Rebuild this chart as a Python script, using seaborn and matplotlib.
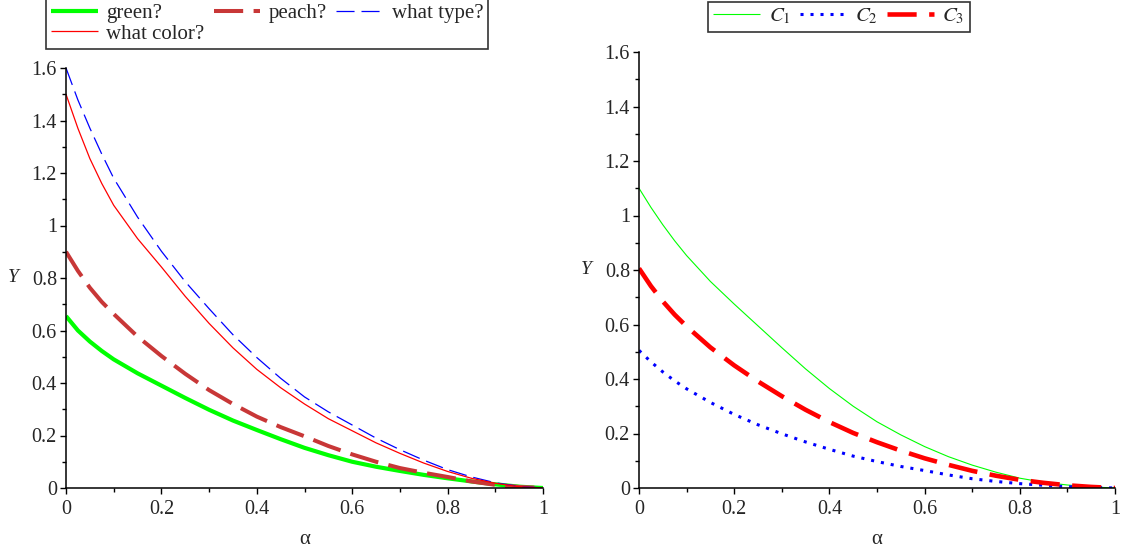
"""
Two-panel decay curves of Y against alpha, in the style of a Maple plot.
"""

import matplotlib

matplotlib.use("Agg")
import matplotlib.pyplot as plt
import matplotlib.ticker as mticker
import seaborn as sns

# alpha grid shared by every curve (finer near 0 where the curves bend most)
alpha = [0.000, 0.025, 0.050, 0.075, 0.10, 0.15, 0.20, 0.25, 0.30, 0.35, 0.40,
         0.45, 0.50, 0.55, 0.60, 0.65, 0.70, 0.75, 0.80, 0.85, 0.90, 0.95, 1.00]

# left panel, values
green = [0.655, 0.600, 0.558, 0.522, 0.490, 0.437, 0.390, 0.343, 0.298, 0.257, 0.221,
         0.186, 0.153, 0.125, 0.100, 0.081, 0.065, 0.050, 0.037, 0.025, 0.014, 0.005, 0.0]
peach = [0.900, 0.827, 0.763, 0.709, 0.663, 0.577, 0.503, 0.435, 0.373, 0.320, 0.272,
         0.232, 0.197, 0.160, 0.128, 0.100, 0.076, 0.058, 0.042, 0.025, 0.012, 0.004, 0.0]
what_type = [1.600, 1.478, 1.371, 1.272, 1.180, 1.032, 0.902, 0.786, 0.683, 0.584, 0.497,
             0.418, 0.347, 0.290, 0.240, 0.190, 0.146, 0.106, 0.070, 0.042, 0.020, 0.006, 0.0]
what_color = [1.500, 1.370, 1.255, 1.160, 1.077, 0.950, 0.842, 0.730, 0.627, 0.534, 0.452,
              0.382, 0.320, 0.264, 0.218, 0.172, 0.132, 0.095, 0.063, 0.037, 0.018, 0.005, 0.0]

# right panel
c1 = [1.100, 1.030, 0.966, 0.907, 0.853, 0.758, 0.675, 0.595, 0.515, 0.437, 0.365,
      0.300, 0.243, 0.195, 0.152, 0.115, 0.084, 0.058, 0.036, 0.021, 0.011, 0.004, 0.0]
c2 = [0.505, 0.463, 0.426, 0.393, 0.364, 0.314, 0.270, 0.232, 0.199, 0.169, 0.142,
      0.117, 0.097, 0.079, 0.064, 0.048, 0.034, 0.024, 0.016, 0.010, 0.005, 0.002, 0.0]
c3 = [0.806, 0.741, 0.685, 0.636, 0.593, 0.516, 0.450, 0.391, 0.337, 0.287, 0.242,
      0.202, 0.168, 0.137, 0.109, 0.085, 0.063, 0.045, 0.030, 0.019, 0.010, 0.004, 0.0]

left_labels = ["green?", "peach?", "what type?", "what color?"]
right_labels = ["$C_1$", "$C_2$", "$C_3$"]
x_ticks = [0, 0.2, 0.4, 0.6, 0.8, 1]
y_ticks = [0, 0.2, 0.4, 0.6, 0.8, 1, 1.2, 1.4, 1.6]

sns.set_style("white")
plt.rcParams["font.family"] = ["Liberation Serif", "DejaVu Serif"]
plt.rcParams["mathtext.fontset"] = "stix"
plt.rcParams["lines.scale_dashes"] = False


def draw(ax, y, color, lw, dashes=None):
    sns.lineplot(x=alpha, y=y, color=color, linewidth=lw, ax=ax)
    line = ax.lines[-1]
    if dashes:
        line.set_dashes(dashes)
    line.set_dash_capstyle("butt")
    line.set_solid_capstyle("butt")
    return line


def style_axes(ax):
    ax.set_xlim(0, 1)
    ax.set_ylim(0, 1.6)
    ax.set_xticks(x_ticks)
    ax.set_yticks(y_ticks)
    ax.xaxis.set_minor_locator(mticker.MultipleLocator(0.1))
    ax.yaxis.set_minor_locator(mticker.MultipleLocator(0.1))
    fmt = mticker.FuncFormatter(lambda v, _: f"{v:g}")
    ax.xaxis.set_major_formatter(fmt)
    ax.yaxis.set_major_formatter(fmt)
    ax.tick_params(which="major", direction="out", length=4.5, width=1.0,
                   labelsize=14.5, pad=2, color="black", left=True, bottom=True)
    ax.tick_params(axis="x", which="major", pad=4)
    ax.tick_params(which="minor", direction="out", length=2.8, width=1.0,
                   color="black", left=True, bottom=True)
    for side in ("top", "right"):
        ax.spines[side].set_visible(False)
    for side in ("left", "bottom"):
        ax.spines[side].set_color("black")
        ax.spines[side].set_linewidth(1.1)
        ax.spines[side].set_zorder(5)
    ax.set_xlabel("α", fontsize=15, labelpad=8)
    ax.set_ylabel("Y", fontsize=14, style="italic", rotation=0,
                  va="center", ha="center")
    ax.yaxis.set_label_coords(-0.11, 0.5)
    ax.grid(False)


W, H = 1121, 549
fig = plt.figure(figsize=(W / 100, H / 100), dpi=100)
ax1 = fig.add_axes([66 / W, 1 - 488 / H, 477 / W, 420 / H])
ax2 = fig.add_axes([639 / W, 1 - 488 / H, 476 / W, 436 / H])

h_green = draw(ax1, green, "#00ff00", 3.0)
h_peach = draw(ax1, peach, "#c83737", 2.9, dashes=(21, 7.5))
h_type = draw(ax1, what_type, "#0000ff", 0.9, dashes=(13, 5))
h_color = draw(ax1, what_color, "#ff0000", 0.9)

h_c1 = draw(ax2, c1, "#00ff00", 0.8)
h_c2 = draw(ax2, c2, "#0000ff", 2.2, dashes=(2.2, 5.0))
h_c3 = draw(ax2, c3, "#ff0000", 3.3, dashes=(21, 9))

style_axes(ax1)
style_axes(ax2)

# matplotlib fills legend columns top-down, so order for the 3-column layout
leg1 = fig.legend([h_green, h_color, h_peach, h_type],
                  [left_labels[0], left_labels[3], left_labels[1], left_labels[2]],
                  loc="lower center", bbox_to_anchor=(267 / W, 1 - 49 / H),
                  ncol=3, fontsize=15, frameon=True, fancybox=False,
                  handlelength=2.25, handletextpad=0.4, columnspacing=0.45,
                  labelspacing=0.05, borderpad=0.25, borderaxespad=0)
leg2 = fig.legend([h_c1, h_c2, h_c3], right_labels,
                  loc="lower center", bbox_to_anchor=(839 / W, 1 - 32 / H),
                  ncol=3, fontsize=15, frameon=True, fancybox=False,
                  handlelength=2.25, handletextpad=0.4, columnspacing=0.45,
                  borderpad=0.25, borderaxespad=0)
for leg in (leg1, leg2):
    frame = leg.get_frame()
    frame.set_edgecolor("black")
    frame.set_linewidth(1.2)

fig.savefig("out.png", dpi=100)
plt.close(fig)
